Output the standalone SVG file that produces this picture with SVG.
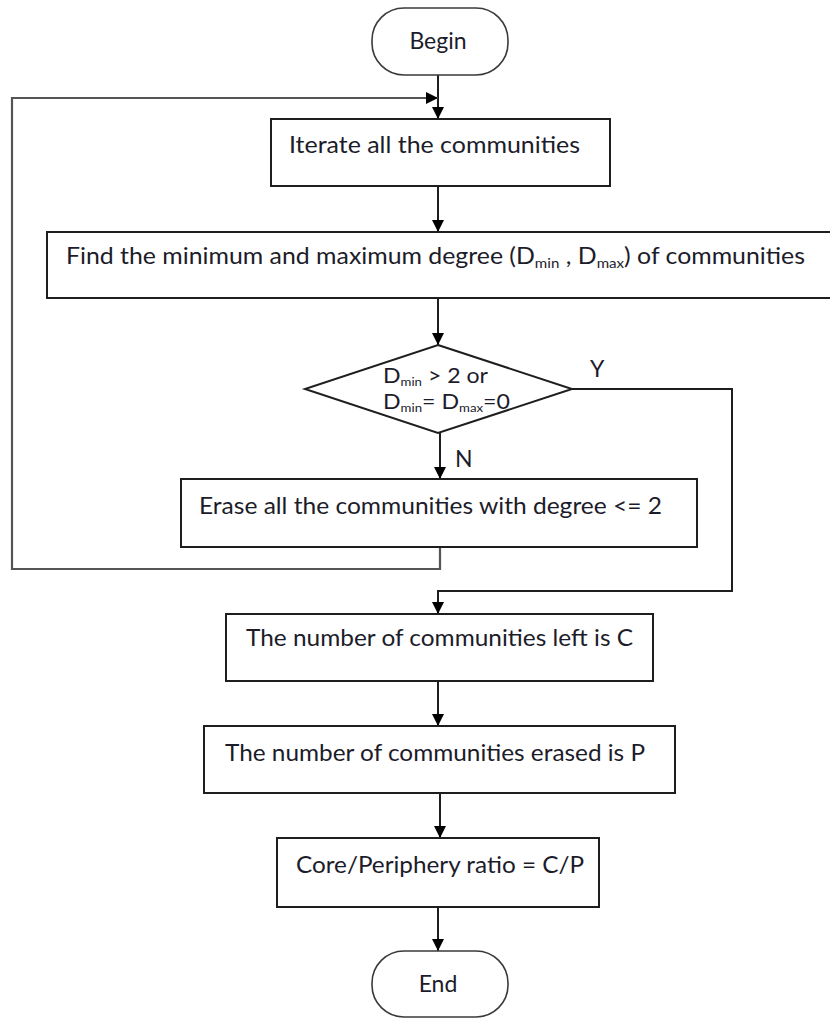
<svg xmlns="http://www.w3.org/2000/svg" width="830" height="1019" viewBox="0 0 830 1019">
  <style>
    .box { fill: #ffffff; stroke: #1e1e1e; stroke-width: 2; }
    .term { fill: #ffffff; stroke: #3a3a3a; stroke-width: 1.6; }
    .lbl { font-family: Lato, "Open Sans", "Liberation Sans", sans-serif; font-size: 23px; fill: #1c1c2a; }
    .dec { font-size: 21px; }
    .sub { font-size: 14px; }
    .dsub { font-size: 12px; }
    .flow { fill: none; stroke: #1e1e1e; stroke-width: 2; }
    .loop { fill: none; stroke: #555555; stroke-width: 2.2; }
  </style>
  <defs>
    <marker id="arrow" viewBox="0 0 12 12" refX="12" refY="6" markerWidth="12" markerHeight="12" markerUnits="userSpaceOnUse" orient="auto">
      <path d="M0,0 L12,6 L0,12 Z" fill="#000000"/>
    </marker>
  </defs>

  <rect width="830" height="1019" fill="#ffffff"/>

  <!-- connectors -->
  <g id="connectors">
    <line class="flow" x1="438" y1="75" x2="438" y2="119" marker-end="url(#arrow)"/>
    <line class="flow" x1="438" y1="186" x2="438" y2="232" marker-end="url(#arrow)"/>
    <line class="flow" x1="438" y1="298" x2="438" y2="345" marker-end="url(#arrow)"/>
    <line class="flow" x1="440" y1="433" x2="440" y2="479" marker-end="url(#arrow)"/>
    <polyline class="loop" points="440,547 440,569 12,569 12,98 438,98" marker-end="url(#arrow)"/>
    <polyline class="flow" points="572,389 732,389 732,591 438,591 438,614" marker-end="url(#arrow)"/>
    <line class="flow" x1="438" y1="681" x2="438" y2="726" marker-end="url(#arrow)"/>
    <line class="flow" x1="440" y1="793" x2="440" y2="838" marker-end="url(#arrow)"/>
    <line class="flow" x1="438" y1="907" x2="438" y2="951" marker-end="url(#arrow)"/>
    <text class="lbl" x="590" y="377">Y</text>
    <text class="lbl" x="455" y="467">N</text>
  </g>

  <g id="begin">
    <rect class="term" x="372" y="8" width="136" height="67" rx="32" ry="32"/>
    <text class="lbl" x="438" y="49" text-anchor="middle">Begin</text>
  </g>

  <g id="iterate">
    <rect class="box" x="271" y="119" width="339" height="67"/>
    <text class="lbl" x="289" y="153" textLength="291" lengthAdjust="spacingAndGlyphs">Iterate all the communities</text>
  </g>

  <g id="find-degree">
    <rect class="box" x="47" y="232" width="790" height="66"/>
    <text class="lbl" x="66" y="264" textLength="739" lengthAdjust="spacingAndGlyphs">Find the minimum and maximum degree (D<tspan class="sub" dy="4">min</tspan><tspan dy="-4"> , D</tspan><tspan class="sub" dy="4">max</tspan><tspan dy="-4">) of communities</tspan></text>
  </g>

  <g id="decision">
    <polygon class="box" points="438,345 572,389 438,433 305,389"/>
    <text class="lbl dec" x="383" y="383" textLength="105" lengthAdjust="spacingAndGlyphs">D<tspan class="dsub" dy="3">min</tspan><tspan dy="-3"> &gt; 2 or</tspan></text>
    <text class="lbl dec" x="383" y="409" textLength="127" lengthAdjust="spacingAndGlyphs">D<tspan class="dsub" dy="3">min</tspan><tspan dy="-3">= D</tspan><tspan class="dsub" dy="3">max</tspan><tspan dy="-3">=0</tspan></text>
  </g>

  <g id="erase">
    <rect class="box" x="181" y="479" width="516" height="68"/>
    <text class="lbl" x="199" y="514" textLength="463" lengthAdjust="spacingAndGlyphs">Erase all the communities with degree &lt;= 2</text>
  </g>

  <g id="count-left">
    <rect class="box" x="226" y="614" width="427" height="67"/>
    <text class="lbl" x="246" y="646" textLength="387" lengthAdjust="spacingAndGlyphs">The number of communities left is C</text>
  </g>

  <g id="count-erased">
    <rect class="box" x="204" y="726" width="471" height="67"/>
    <text class="lbl" x="225" y="761" textLength="420" lengthAdjust="spacingAndGlyphs">The number of communities erased is P</text>
  </g>

  <g id="ratio">
    <rect class="box" x="277" y="838" width="322" height="69"/>
    <text class="lbl" x="296" y="873" textLength="288" lengthAdjust="spacingAndGlyphs">Core/Periphery ratio = C/P</text>
  </g>

  <g id="end">
    <rect class="term" x="372" y="951" width="136" height="66" rx="32" ry="32"/>
    <text class="lbl" x="438" y="992" text-anchor="middle">End</text>
  </g>
</svg>
